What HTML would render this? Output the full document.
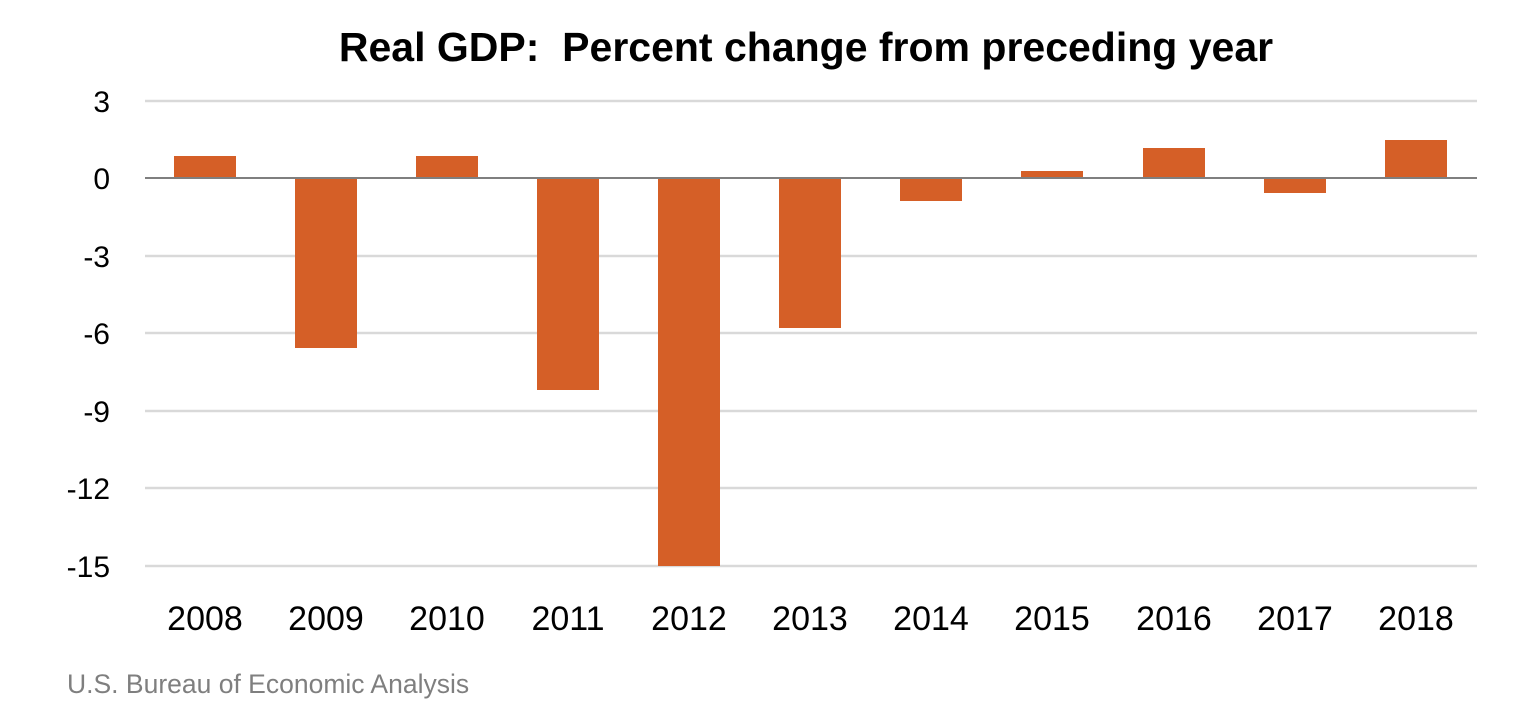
<!DOCTYPE html>
<html><head><meta charset="utf-8"><style>
html,body{margin:0;padding:0;background:#fff;}
svg{display:block;font-family:"Liberation Sans",Arial,sans-serif;}
</style></head><body>
<svg width="1532" height="724" viewBox="0 0 1532 724">
<text x="806" y="61" text-anchor="middle" font-size="41" font-weight="bold" fill="#000">Real GDP:&#160; Percent change from preceding year</text>
<g stroke="#d9d9d9" stroke-width="2.5">
<line x1="145" x2="1477" y1="101" y2="101"/>
<line x1="145" x2="1477" y1="256" y2="256"/>
<line x1="145" x2="1477" y1="333" y2="333"/>
<line x1="145" x2="1477" y1="411" y2="411"/>
<line x1="145" x2="1477" y1="488" y2="488"/>
<line x1="145" x2="1477" y1="566" y2="566"/>
</g>
<g fill="#d55f27">
<rect x="174" y="156" width="62" height="22"/>
<rect x="295" y="178" width="62" height="170"/>
<rect x="416" y="156" width="62" height="22"/>
<rect x="537" y="178" width="62" height="212"/>
<rect x="658" y="178" width="62" height="388"/>
<rect x="779" y="178" width="62" height="150"/>
<rect x="900" y="178" width="62" height="23"/>
<rect x="1021" y="171" width="62" height="7"/>
<rect x="1143" y="148" width="62" height="30"/>
<rect x="1264" y="178" width="62" height="15"/>
<rect x="1385" y="140" width="62" height="38"/>
</g>
<line x1="145" x2="1477" y1="178" y2="178" stroke="#7f7f7f" stroke-width="2"/>
<g font-size="30" fill="#000" text-anchor="end">
<text x="110" y="112">3</text>
<text x="110" y="189">0</text>
<text x="110" y="267">-3</text>
<text x="110" y="344">-6</text>
<text x="110" y="422">-9</text>
<text x="110" y="499">-12</text>
<text x="110" y="577">-15</text>
</g>
<g font-size="34" fill="#000" text-anchor="middle">
<text x="205" y="630">2008</text>
<text x="326" y="630">2009</text>
<text x="447" y="630">2010</text>
<text x="568" y="630">2011</text>
<text x="689" y="630">2012</text>
<text x="810" y="630">2013</text>
<text x="931" y="630">2014</text>
<text x="1052" y="630">2015</text>
<text x="1174" y="630">2016</text>
<text x="1295" y="630">2017</text>
<text x="1416" y="630">2018</text>
</g>
<text x="67" y="693" font-size="26.5" fill="#7f7f7f">U.S. Bureau of Economic Analysis</text>
</svg>
</body></html>
